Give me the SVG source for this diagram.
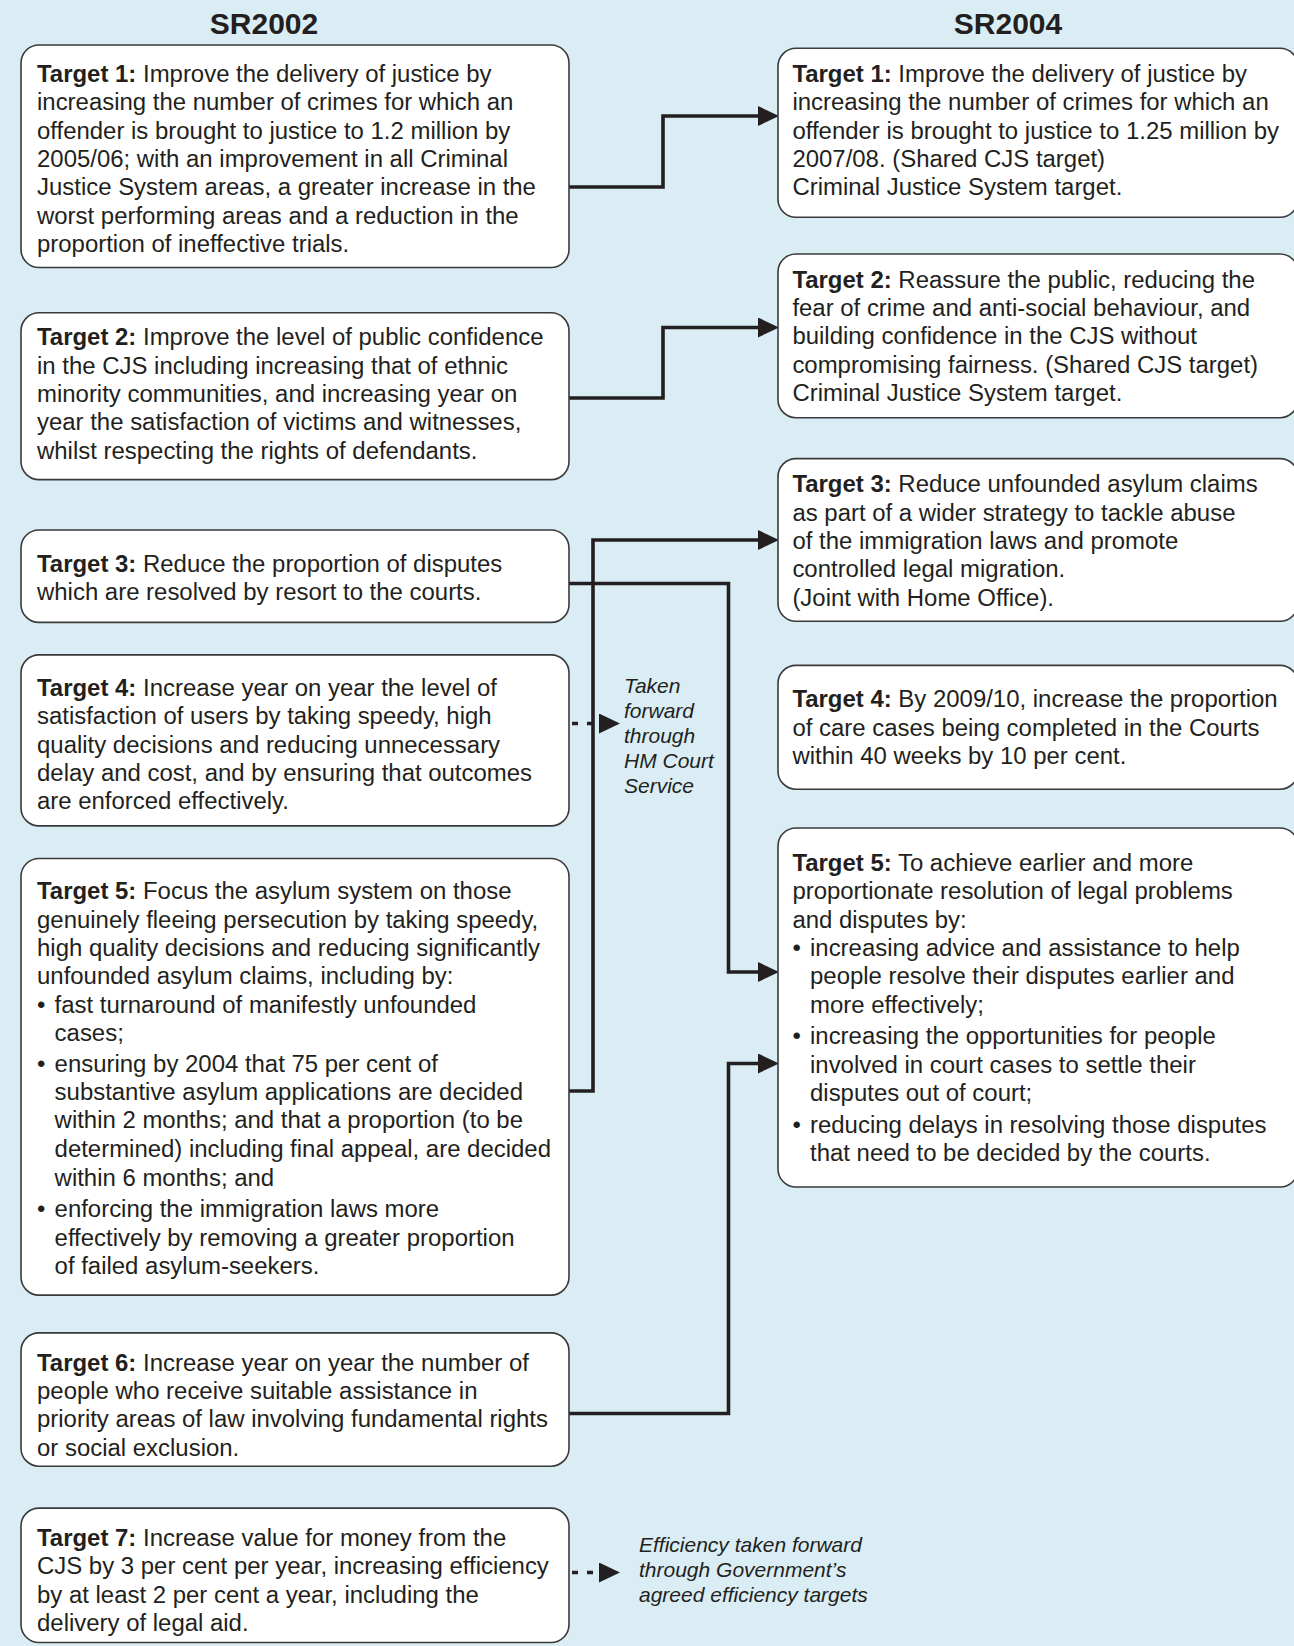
<svg xmlns="http://www.w3.org/2000/svg" width="1294" height="1646" viewBox="0 0 1294 1646">
<defs>
<style>
.bg{fill:#daedf5}
.box{fill:#ffffff;stroke:#3a3a3a;stroke-width:1.6}
.t{font-family:"Liberation Sans",Arial,sans-serif;font-size:23.95px;fill:#231f20}
.b{font-weight:bold}
.h{font-family:"Liberation Sans",Arial,sans-serif;font-size:30px;font-weight:bold;fill:#231f20;text-anchor:middle}
.i{font-family:"Liberation Sans",Arial,sans-serif;font-size:21px;font-style:italic;fill:#231f20}
.c{fill:none;stroke:#231f20;stroke-width:3.6}
.d{fill:none;stroke:#231f20;stroke-width:3.6;stroke-dasharray:6 9}
</style>
<marker id="ah" markerUnits="userSpaceOnUse" markerWidth="22" markerHeight="22" refX="0" refY="10" orient="auto" viewBox="0 0 22 22">
<path d="M0,0 L21,10 L0,20 z" fill="#231f20"/>
</marker>
</defs>
<rect class="bg" x="0" y="0" width="1294" height="1646"/>
<text class="h" x="264" y="34">SR2002</text>
<text class="h" x="1008" y="34">SR2004</text>

<g id="connectors">
<path class="c" d="M569,187 H663 V116 H758" marker-end="url(#ah)"/>
<path class="c" d="M569,398 H663 V327.5 H758" marker-end="url(#ah)"/>
<path class="c" d="M569,1091 H593 V540 H758" marker-end="url(#ah)"/>
<path class="c" d="M569,583.5 H728.5 V972 H758" marker-end="url(#ah)"/>
<path class="c" d="M569,1413.5 H728.5 V1063.5 H758" marker-end="url(#ah)"/>
<path class="d" d="M572,723.5 H599" marker-end="url(#ah)"/>
<path class="d" d="M572,1572.5 H599" marker-end="url(#ah)"/>
</g>

<g id="l1">
<rect class="box" x="21" y="45" width="548" height="222.5" rx="18"/>
<text class="t" x="37" y="81.9"><tspan class="b">Target 1:</tspan> Improve the delivery of justice by</text>
<text class="t" x="37" y="110.2">increasing the number of crimes for which an</text>
<text class="t" x="37" y="138.6">offender is brought to justice to 1.2 million by</text>
<text class="t" x="37" y="166.9">2005/06; with an improvement in all Criminal</text>
<text class="t" x="37" y="195.3">Justice System areas, a greater increase in the</text>
<text class="t" x="37" y="223.6">worst performing areas and a reduction in the</text>
<text class="t" x="37" y="251.9">proportion of ineffective trials.</text>
</g>
<g id="l2">
<rect class="box" x="21" y="312.8" width="548" height="166.8" rx="18"/>
<text class="t" x="37" y="345.3"><tspan class="b">Target 2:</tspan> Improve the level of public confidence</text>
<text class="t" x="37" y="373.6">in the CJS including increasing that of ethnic</text>
<text class="t" x="37" y="402">minority communities, and increasing year on</text>
<text class="t" x="37" y="430.3">year the satisfaction of victims and witnesses,</text>
<text class="t" x="37" y="458.6">whilst respecting the rights of defendants.</text>
</g>
<g id="l3">
<rect class="box" x="21" y="530" width="548" height="92.4" rx="18"/>
<text class="t" x="37" y="572"><tspan class="b">Target 3:</tspan> Reduce the proportion of disputes</text>
<text class="t" x="37" y="600.3">which are resolved by resort to the courts.</text>
</g>
<g id="l4">
<rect class="box" x="21" y="654.9" width="548" height="171" rx="18"/>
<text class="t" x="37" y="695.8"><tspan class="b">Target 4:</tspan> Increase year on year the level of</text>
<text class="t" x="37" y="724.1">satisfaction of users by taking speedy, high</text>
<text class="t" x="37" y="752.5">quality decisions and reducing unnecessary</text>
<text class="t" x="37" y="780.8">delay and cost, and by ensuring that outcomes</text>
<text class="t" x="37" y="809.2">are enforced effectively.</text>
</g>
<g id="l5">
<rect class="box" x="21" y="858.5" width="548" height="436.6" rx="18"/>
<text class="t" x="37" y="899.4"><tspan class="b">Target 5:</tspan> Focus the asylum system on those</text>
<text class="t" x="37" y="927.8">genuinely fleeing persecution by taking speedy,</text>
<text class="t" x="37" y="956.1">high quality decisions and reducing significantly</text>
<text class="t" x="37" y="984.4">unfounded asylum claims, including by:</text>
<text class="t" x="37" y="1012.8">•</text>
<text class="t" x="54.6" y="1012.8">fast turnaround of manifestly unfounded</text>
<text class="t" x="54.6" y="1041.1">cases;</text>
<text class="t" x="37" y="1071.5">•</text>
<text class="t" x="54.6" y="1071.5">ensuring by 2004 that 75 per cent of</text>
<text class="t" x="54.6" y="1099.9">substantive asylum applications are decided</text>
<text class="t" x="54.6" y="1128.2">within 2 months; and that a proportion (to be</text>
<text class="t" x="54.6" y="1156.5">determined) including final appeal, are decided</text>
<text class="t" x="54.6" y="1185.9">within 6 months; and</text>
<text class="t" x="37" y="1217.4">•</text>
<text class="t" x="54.6" y="1217.4">enforcing the immigration laws more</text>
<text class="t" x="54.6" y="1245.8">effectively by removing a greater proportion</text>
<text class="t" x="54.6" y="1274.1">of failed asylum-seekers.</text>
</g>
<g id="l6">
<rect class="box" x="21" y="1332.9" width="548" height="133.3" rx="18"/>
<text class="t" x="37" y="1370.6"><tspan class="b">Target 6:</tspan> Increase year on year the number of</text>
<text class="t" x="37" y="1398.9">people who receive suitable assistance in</text>
<text class="t" x="37" y="1427.3">priority areas of law involving fundamental rights</text>
<text class="t" x="37" y="1455.6">or social exclusion.</text>
</g>
<g id="l7">
<rect class="box" x="21" y="1508.1" width="548" height="134.4" rx="18"/>
<text class="t" x="37" y="1545.9"><tspan class="b">Target 7:</tspan> Increase value for money from the</text>
<text class="t" x="37" y="1574.2">CJS by 3 per cent per year, increasing efficiency</text>
<text class="t" x="37" y="1602.6">by at least 2 per cent a year, including the</text>
<text class="t" x="37" y="1630.9">delivery of legal aid.</text>
</g>

<g id="r1">
<rect class="box" x="778" y="48.3" width="520" height="169" rx="18"/>
<text class="t" x="792.4" y="81.9"><tspan class="b">Target 1:</tspan> Improve the delivery of justice by</text>
<text class="t" x="792.4" y="110.2">increasing the number of crimes for which an</text>
<text class="t" x="792.4" y="138.6">offender is brought to justice to 1.25 million by</text>
<text class="t" x="792.4" y="166.9">2007/08. (Shared CJS target)</text>
<text class="t" x="792.4" y="195.3">Criminal Justice System target.</text>
</g>
<g id="r2">
<rect class="box" x="778" y="254" width="520" height="163.7" rx="18"/>
<text class="t" x="792.4" y="287.6"><tspan class="b">Target 2:</tspan> Reassure the public, reducing the</text>
<text class="t" x="792.4" y="315.9">fear of crime and anti-social behaviour, and</text>
<text class="t" x="792.4" y="344.3">building confidence in the CJS without</text>
<text class="t" x="792.4" y="372.6">compromising fairness. (Shared CJS target)</text>
<text class="t" x="792.4" y="401">Criminal Justice System target.</text>
</g>
<g id="r3">
<rect class="box" x="778" y="458.6" width="520" height="162.7" rx="18"/>
<text class="t" x="792.4" y="492.2"><tspan class="b">Target 3:</tspan> Reduce unfounded asylum claims</text>
<text class="t" x="792.4" y="520.5">as part of a wider strategy to tackle abuse</text>
<text class="t" x="792.4" y="548.9">of the immigration laws and promote</text>
<text class="t" x="792.4" y="577.2">controlled legal migration.</text>
<text class="t" x="792.4" y="605.6">(Joint with Home Office).</text>
</g>
<g id="r4">
<rect class="box" x="778" y="665.4" width="520" height="123.8" rx="18"/>
<text class="t" x="792.4" y="707.4"><tspan class="b">Target 4:</tspan> By 2009/10, increase the proportion</text>
<text class="t" x="792.4" y="735.7">of care cases being completed in the Courts</text>
<text class="t" x="792.4" y="764.1">within 40 weeks by 10 per cent.</text>
</g>
<g id="r5">
<rect class="box" x="778" y="828" width="520" height="359" rx="18"/>
<text class="t" x="792.4" y="871.1"><tspan class="b">Target 5:</tspan> To achieve earlier and more</text>
<text class="t" x="792.4" y="899.4">proportionate resolution of legal problems</text>
<text class="t" x="792.4" y="927.8">and disputes by:</text>
<text class="t" x="792.4" y="956.1">•</text>
<text class="t" x="810" y="956.1">increasing advice and assistance to help</text>
<text class="t" x="810" y="984.4">people resolve their disputes earlier and</text>
<text class="t" x="810" y="1012.8">more effectively;</text>
<text class="t" x="792.4" y="1044.3">•</text>
<text class="t" x="810" y="1044.3">increasing the opportunities for people</text>
<text class="t" x="810" y="1072.6">involved in court cases to settle their</text>
<text class="t" x="810" y="1101">disputes out of court;</text>
<text class="t" x="792.4" y="1132.5">•</text>
<text class="t" x="810" y="1132.5">reducing delays in resolving those disputes</text>
<text class="t" x="810" y="1160.8">that need to be decided by the courts.</text>
</g>

<g id="note-hmcs">
<text class="i" x="624" y="693">Taken</text>
<text class="i" x="624" y="718">forward</text>
<text class="i" x="624" y="743">through</text>
<text class="i" x="624" y="768">HM Court</text>
<text class="i" x="624" y="793">Service</text>
</g>
<g id="note-eff">
<text class="i" x="639" y="1551.7">Efficiency taken forward</text>
<text class="i" x="639" y="1576.7">through Government’s</text>
<text class="i" x="639" y="1601.7">agreed efficiency targets</text>
</g>
</svg>
